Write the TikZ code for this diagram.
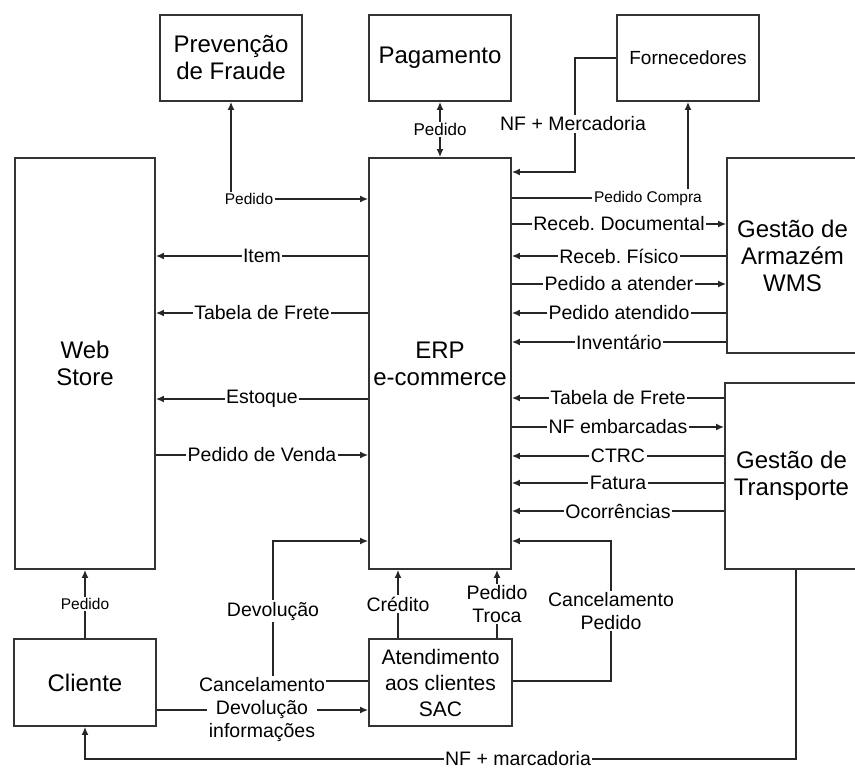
\documentclass[tikz,border=0pt]{standalone}
\usepackage{fontspec}
\setmainfont{Liberation Sans}
\usetikzlibrary{arrows.meta,calc}

\tikzset{
  box/.style={draw=black!80, line width=1.8pt, inner sep=0pt, align=center, font=\fontsize{24}{27}\selectfont},
  lbl/.style={fill=white, inner sep=1.5pt, align=center, font=\fontsize{19.5}{23}\selectfont},
  slbl/.style={lbl, font=\fontsize{15.5}{18}\selectfont},
  flow/.style={draw=black!85, line width=1.5pt, -{Latex[length=8pt,width=7pt]}},
  link/.style={draw=black!85, line width=1.5pt},
}
\frenchspacing

\begin{document}
\begin{tikzpicture}[x=1pt,y=-1pt]
\clip (0,0) rectangle (855,769);
\fill[white] (0,0) rectangle (855,769);

% systems
\node[box, minimum width=142, minimum height=86] (fraude) at (231,58) {Prevenção\\de Fraude};
\node[box, minimum width=142, minimum height=86] (pag) at (440,58) {Pagamento};
\node[box, minimum width=142, minimum height=86, font=\fontsize{19}{22}\selectfont] (forn) at (688,58) {Fornecedores};
\node[box, minimum width=140, minimum height=411] (web) at (85,363.5) {Web\\Store};
\node[box, minimum width=142, minimum height=411] (erp) at (440,363.5) {ERP\\e-commerce};
\node[box, minimum width=131, minimum height=195] (wms) at (792.5,255.5) {Gestão de\\Armazém\\WMS};
\node[box, minimum width=133, minimum height=186] (trans) at (791.5,476) {Gestão de\\Transporte};
\node[box, minimum width=142, minimum height=87] (cli) at (85,682.5) {Cliente};
\node[box, minimum width=143, minimum height=87, font=\fontsize{21}{26}\selectfont] (sac) at (440.5,682.5) {Atendimento\\aos clientes\\SAC};

% top flows
\node[slbl] (pfr) at (249,199) {Pedido};
\draw[flow] (pfr.east) -- (erp.west |- pfr);
\draw[flow] (fraude.south |- pfr.north) -- (fraude.south);
\draw[flow, {Latex[length=8pt,width=7pt]}-{Latex[length=8pt,width=7pt]}] (pag.south) -- node[lbl, font=\fontsize{17}{20}\selectfont]{Pedido} (erp.north);

\coordinate (nfm) at (575,172);
\draw[flow] (forn.west) -| (nfm) -- (erp.east |- nfm);
\node[lbl] (nfmlbl) at (573,124) {NF + Mercadoria};

\node[slbl] (pcl) at (648,198) {Pedido Compra};
\draw[link] (erp.east |- pcl) -- (pcl.west);
\draw[flow] (forn.south |- pcl.north) -- (forn.south);

% ERP <-> WMS
\foreach \y/\a/\b/\t in {224/erp.east/wms.west/Receb. Documental, 256/wms.west/erp.east/Receb. Físico,
  284/erp.east/wms.west/Pedido a atender, 313/wms.west/erp.east/Pedido atendido, 342/wms.west/erp.east/Inventário}{
  \coordinate (row) at (0,\y);
  \draw[flow] (\a |- row) -- node[lbl]{\t} (\b |- row);
}

% ERP <-> Transporte
\foreach \y/\a/\b/\t in {398/trans.west/erp.east/Tabela de Frete, 427/erp.east/trans.west/NF embarcadas,
  456/trans.west/erp.east/CTRC, 483/trans.west/erp.east/Fatura, 511/trans.west/erp.east/Ocorrências}{
  \coordinate (row) at (0,\y);
  \draw[flow] (\a |- row) -- node[lbl]{\t} (\b |- row);
}

% ERP <-> Web Store
\foreach \y/\a/\b/\t in {256/erp.west/web.east/Item, 313/erp.west/web.east/Tabela de Frete,
  399/erp.west/web.east/Estoque, 455/web.east/erp.west/Pedido de Venda}{
  \coordinate (row) at (0,\y);
  \draw[flow] (\a |- row) -- node[lbl]{\t} (\b |- row);
}

% SAC and Cliente
\draw[flow] (cli.north) -- node[slbl]{Pedido} (web.south);

\coordinate (cr) at (398,0);
\draw[flow] (cr |- sac.north) -- node[lbl]{Crédito} (cr |- erp.south);
\coordinate (pt) at (497,0);
\draw[flow] (pt |- sac.north) -- node[lbl]{Pedido\\Troca} (pt |- erp.south);

\coordinate (cp1) at (611,681);
\coordinate (cp2) at (611,541);
\draw[flow] (sac.east |- cp1) -- (cp1) -- node[lbl]{Cancelamento\\Pedido} (cp2) -- (erp.east |- cp2);

\coordinate (dv1) at (273,681);
\coordinate (dv2) at (273,541);
\draw[flow] (sac.west |- dv1) -- (dv1) -- node[lbl]{Devolução} (dv2) -- (erp.west |- dv2);
\node[lbl] (canc) at (262,685) {Cancelamento};

\coordinate (dv3) at (0,710);
\draw[flow] (cli.east |- dv3) -- (sac.west |- dv3);
\node[lbl, anchor=north] (devinf) at (262,699) {Devolução\\informações};

\coordinate (nf1) at (796,759);
\draw[flow] (nf1 |- trans.south) -- (nf1) -- (cli.south |- nf1) -- (cli.south);
\node[lbl, inner sep=1pt] (nflbl) at (518,759) {NF + marcadoria};
\end{tikzpicture}
\end{document}
